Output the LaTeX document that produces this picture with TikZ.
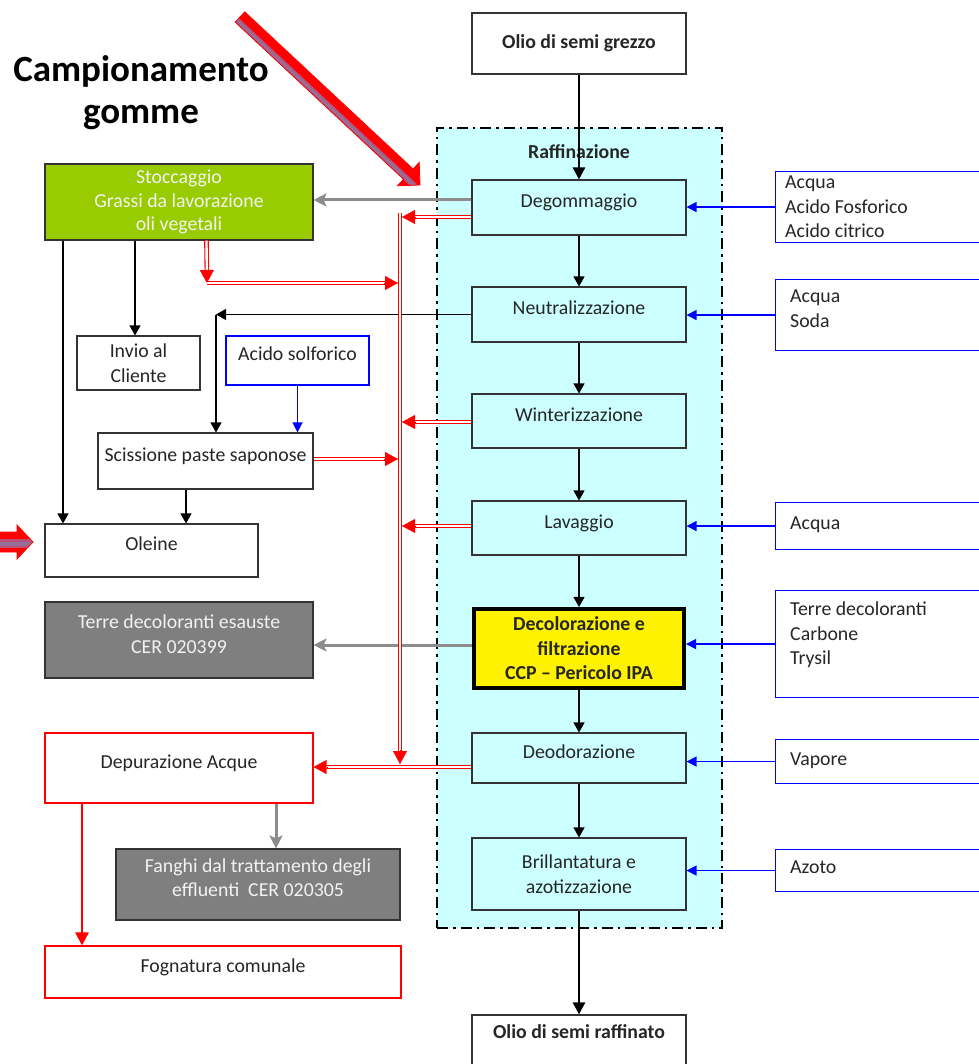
\documentclass[tikz,border=0pt]{standalone}
\usepackage{fontspec}
\setmainfont{Carlito}
\usetikzlibrary{arrows.meta,calc}
\definecolor{cy}{HTML}{CCFFFF}
\definecolor{gr}{HTML}{99CC00}
\definecolor{dg}{HTML}{7F7F7F}
\definecolor{tx}{HTML}{262626}
\definecolor{bl}{HTML}{0000FF}
\definecolor{ln}{HTML}{333333}
\definecolor{ga}{HTML}{8C8C8C}
\definecolor{wt}{HTML}{F2F2F2}
\definecolor{am}{RGB}{185,80,120}
\definecolor{ai}{RGB}{150,110,150}
\newcommand\rdarr[2]{%
  \draw[rdbl] (#1) -- ($(#2)!12pt!(#1)$);
  \draw[rtip] ($(#2)!14pt!(#1)$) -- (#2);}
\begin{document}
\begin{tikzpicture}[x=1pt,y=-1pt,
  txt/.style={font=\fontsize{19.8}{24.5}\selectfont, text=tx, inner sep=0pt},
  bf/.style={font=\bfseries\fontsize{19.8}{24.5}\selectfont, text=tx},
  box/.style={draw=ln, line width=1.1pt, inner sep=0pt, align=center, txt},
  pbox/.style={box, fill=cy, minimum width=214, text height=8pt, text depth=8pt},
  ibox/.style={draw=bl, line width=1.1pt, inner sep=0pt, minimum width=215, anchor=north west},
  itxt/.style={txt, align=left, anchor=north west},
  frm/.style={draw=black, fill=cy, line width=2.2pt, dash pattern=on 11pt off 5pt on 2.5pt off 5pt},
  barr/.style={draw=black, line width=1.2pt, -{Triangle[length=10pt,width=11pt]}},
  barrb/.style={draw=bl, line width=1.3pt, -{Triangle[length=10pt,width=10pt]}},
  garr/.style={draw=ga, line width=3pt, -{Stealth[length=13pt,width=13pt,inset=3pt]}},
  marr/.style={draw=black, line width=2.5pt, -{Triangle[length=12pt,width=12pt]}},
  rarr/.style={draw=red, line width=2.5pt, -{Triangle[length=13pt,width=13pt]}},
  rdbl/.style={draw=red, line width=1.1pt, double=white, double distance=2.4pt},
  rtip/.style={draw=red, line width=0.2pt, -{Triangle[length=13pt,width=14pt]}},
]
\fill[white] (0,0) rectangle (978,1064);
\useasboundingbox (0,0) rectangle (978,1064);

% frame
\node[frm, minimum width=285, minimum height=800] (frame) at (579.5,528) {};
\node[bf, inner sep=0pt] (raftitle) at (579,152) {Raffinazione};

% main column
\node[box, bf, minimum width=214, minimum height=61] (grz) at (579,43.5) {Olio di semi grezzo};
\node[pbox, minimum height=55] (deg) at (579,207.5) {Degommaggio};
\node[pbox, minimum height=55] (neu) at (579,314.5) {Neutralizzazione};
\node[pbox, minimum height=54] (win) at (579,421) {Winterizzazione};
\node[pbox, minimum height=54] (lav) at (579,528) {Lavaggio};
\node[box, bf, fill=yellow, draw=black, line width=3.6pt, minimum width=210.5, minimum height=79.5] (deco) at (579,648.5) {Decolorazione e\\filtrazione\\CCP – Pericolo IPA};
\node[pbox, minimum height=50] (deo) at (579,758) {Deodorazione};
\node[box, fill=cy, minimum width=214, minimum height=72] (bri) at (579,874) {Brillantatura e\\azotizzazione};
\node[box, minimum width=214, minimum height=60] (raf) at (579,1045) {};
\node[bf, inner sep=0pt] (raft) at (579,1032) {Olio di semi raffinato};

% inputs
\node[ibox, minimum height=71] (in1) at (775,171) {};
\node[itxt] (in1t) at (785,176) {Acqua\\Acido Fosforico\\Acido citrico};
\node[ibox, minimum height=71] (in2) at (775,279) {};
\node[itxt] (in2t) at (790,290) {Acqua\\Soda};
\node[ibox, minimum height=47] (in3) at (775,502) {};
\node[itxt] (in3t) at (790,517) {Acqua};
\node[ibox, minimum height=107] (in4) at (775,590) {};
\node[itxt] (in4t) at (790,602) {Terre decoloranti\\Carbone\\Trysil};
\node[ibox, minimum height=44] (in5) at (775,739) {};
\node[itxt] (in5t) at (790,753) {Vapore};
\node[ibox, minimum height=42] (in6) at (775,849) {};
\node[itxt] (in6t) at (790,861) {Azoto};

% left side
\node[font=\bfseries\fontsize{37}{42}\selectfont, align=center, inner sep=0pt] (camp) at (141,93) {Campionamento\\gomme};
\node[box, fill=gr, text=wt, minimum width=268, minimum height=76, font=\fontsize{19.8}{23.5}\selectfont] (sto) at (179,202) {Stoccaggio\\Grassi da lavorazione\\oli vegetali};
\node[box, minimum width=123, minimum height=54] (inv) at (138.5,363) {Invio al\\Cliente};
\node[box, draw=bl, minimum width=143, minimum height=49, text height=8pt, text depth=8pt] (aso) at (297.5,360.5) {Acido solforico};
\node[box, minimum width=215, minimum height=56, text height=8pt, text depth=8pt] (scis) at (205.5,461) {Scissione paste saponose};
\node[box, minimum width=213, minimum height=53, text height=8pt, text depth=8pt] (ole) at (151.5,550.5) {Oleine};
\node[box, fill=dg, minimum width=268, minimum height=76] (ter) at (179,640) {};
\node[txt, text=wt, align=center] (tert) at (179,634) {Terre decoloranti esauste\\CER 020399};
\node[box, draw=red, minimum width=268, minimum height=70, text height=8pt, text depth=8pt] (dep) at (179,768) {Depurazione Acque};
\node[box, fill=dg, minimum width=284, minimum height=71] (fan) at (258,884.5) {};
\node[txt, text=wt, align=center] (fant) at (258,877.5) {Fanghi dal trattamento degli\\effluenti~~CER 020305};
\node[box, draw=red, minimum width=356, minimum height=52, text height=8pt, text depth=8pt] (fog) at (223,972) {Fognatura comunale};

% helper coordinates
\coordinate (y200) at (0,200);
\coordinate (y645) at (0,645);
\coordinate (xs) at (216,0);
\coordinate (x63) at (63,0);
\coordinate (x135) at (135,0);
\coordinate (x186) at (186,0);
\coordinate (x276) at (276,0);
\coordinate (x82) at (82,0);

% main flow
\draw[marr] (grz.south) -- (deg.north);
\draw[barr] (deg.south) -- (neu.north);
\draw[barr] (neu.south) -- (win.north);
\draw[barr] (win.south) -- (lav.north);
\draw[barr] (lav.south) -- (deco.north);
\draw[barr] (deco.south) -- (deo.north);
\draw[barr] (deo.south) -- (bri.north);
\draw[marr] (bri.south) -- (raf.north);

% inputs arrows
\draw[barrb] (in1.west) -- (in1.west -| deg.east);
\draw[barrb] (in2.west) -- (in2.west -| neu.east);
\draw[barrb] (in3.west) -- (in3.west -| lav.east);
\draw[barrb] (in4.west) -- (in4.west -| deco.east);
\draw[barrb] (in5.west) -- (in5.west -| deo.east);
\draw[barrb] (in6.west) -- (in6.west -| bri.east);
\draw[barrb] (aso.south) -- (aso.south |- scis.north);

% black left connectors
\draw[barr] (neu.west) -- (neu.west -| xs);
\draw[barr] (neu.west -| xs) -- (scis.north -| xs);
\draw[barr] (sto.south -| x63) -- (ole.north -| x63);
\draw[barr] (sto.south -| x135) -- (inv.north -| x135);
\draw[barr] (scis.south -| x186) -- (ole.north -| x186);

% gray
\draw[garr] (deg.west |- y200) -- (sto.east |- y200);
\draw[garr] (deco.west |- y645) -- (ter.east |- y645);
\draw[garr] (dep.south -| x276) -- (fan.north -| x276);

% red thick
\draw[rarr] (dep.south -| x82) -- (fog.north -| x82);

% red double
\coordinate (bustop) at (400,213);
\coordinate (rdeg) at ($(deg.west)+(0,9.5)$);
\coordinate (bdeg) at ($(bustop |- rdeg)+(2,0)$);
\coordinate (rwin) at ($(win.west)+(0,1)$);
\coordinate (bwin) at ($(bustop |- rwin)+(2,0)$);
\coordinate (rlav) at ($(lav.west)+(0,-2)$);
\coordinate (blav) at ($(bustop |- rlav)+(2,0)$);
\coordinate (rscis) at ($(scis.east)+(0,-2)$);
\coordinate (bscis) at ($(bustop |- rscis)+(-2,0)$);
\coordinate (rdeo) at ($(deo.west)+(0,9)$);
\coordinate (bbot) at ($(bustop |- rdeo)+(0,-3)$);
\coordinate (rdep) at (dep.east |- rdeo);
\coordinate (rsto) at ($(sto.south west)+(162,0)$);
\coordinate (rcorner) at (207,283);
\coordinate (bsto) at ($(bustop |- rcorner)+(-2,0)$);

\rdarr{bustop}{bbot}
\rdarr{rdeg}{bdeg}
\rdarr{rwin}{bwin}
\rdarr{rlav}{blav}
\rdarr{rscis}{bscis}
\rdarr{rsto}{rcorner}
\rdarr{rcorner}{bsto}
\rdarr{rdeo}{rdep}

% big diagonal arrow
\begin{scope}
\clip (420,185) -- (397.4,185.8) -- (403.5,179.2) -- (235.2,22.1) -- (244.8,11.9) -- (413.1,169.0) -- (419.2,162.4) -- cycle;
\fill[red] (420,185) -- (397.4,185.8) -- (403.5,179.2) -- (235.2,22.1) -- (244.8,11.9) -- (413.1,169.0) -- (419.2,162.4) -- cycle;
\draw[am, line width=6pt] (237,20.5) -- (420,191);
\draw[ai, line width=3pt] (237,20.5) -- (420,191);
\end{scope}
\draw[red, line width=0.8pt, line join=miter] (420,185) -- (397.4,185.8) -- (403.5,179.2) -- (235.2,22.1) -- (244.8,11.9) -- (413.1,169.0) -- (419.2,162.4) -- cycle;

% left arrow to Oleine
\begin{scope}
\clip (33,542) -- (17,525) -- (17,532) -- (-5,532) -- (-5,552) -- (17,552) -- (17,559) -- cycle;
\fill[red] (33,542) -- (17,525) -- (17,532) -- (-5,532) -- (-5,552) -- (17,552) -- (17,559) -- cycle;
\draw[am, line width=9pt] (-5,543.5) -- (35,543.5);
\draw[ai, line width=4pt] (-5,543.5) -- (35,543.5);
\end{scope}
\draw[red, line width=0.8pt] (33,542) -- (17,525) -- (17,532) -- (-5,532) -- (-5,552) -- (17,552) -- (17,559) -- cycle;
\end{tikzpicture}
\end{document}
